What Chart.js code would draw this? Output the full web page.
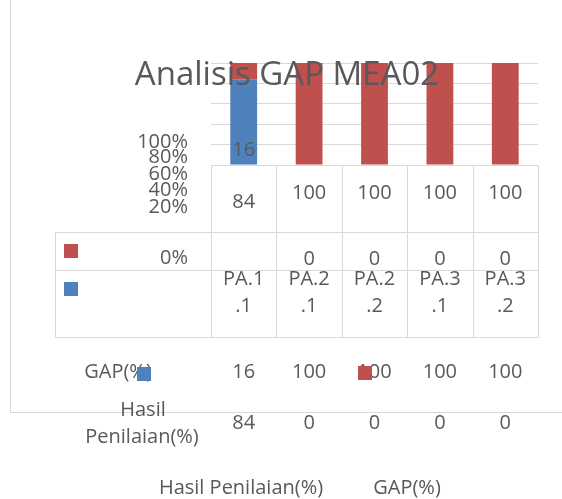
<!DOCTYPE html>
<html>
<head>
<meta charset="utf-8">
<script src="https://cdn.jsdelivr.net/npm/chart.js@4.4.0/dist/chart.umd.min.js"></script>
<style>
  html, body { margin: 0; padding: 0; background: #fff; }
  #wrap { width: 562px; height: 499px; position: relative; }
</style>
</head>
<body>
<div id="wrap"><canvas id="gapChart" width="562" height="499"></canvas></div>
<script>
// data grafik
const categories = ['PA.1.1', 'PA.2.1', 'PA.2.2', 'PA.3.1', 'PA.3.2'];
const hasilPenilaian = [84, 0, 0, 0, 0];
const gap = [16, 100, 100, 100, 100];
const yTickLabels = ['0%', '20%', '40%', '60%', '80%', '100%'];
const seriesNames = ['Hasil Penilaian(%)', 'GAP(%)'];
const chartTitle = 'Analisis GAP MEA02';

const BLUE = '#4F81BD';
const RED = '#C0504D';
const TEXT = '#595959';
const LINE = '#D9D9D9';
const FONT = '"Open Sans", sans-serif';

function teks(ctx, str, x, y, size, align) {
  ctx.font = size + 'px ' + FONT;
  ctx.fillStyle = TEXT;
  ctx.textAlign = align || 'center';
  ctx.textBaseline = 'middle';
  ctx.fillText(str, x, y);
}

function garis(ctx, x1, y1, x2, y2) {
  ctx.beginPath();
  ctx.moveTo(x1, y1);
  ctx.lineTo(x2, y2);
  ctx.stroke();
}

function kotak(ctx, color, x, y) {
  ctx.fillStyle = color;
  ctx.fillRect(x, y, 14, 14);
}

// gambar tabel data, label dan judul seperti di Excel
const tabelPlugin = {
  id: 'tabelExcel',
  afterDatasetsDraw(chart) {
    const ctx = chart.ctx;
    const xs = chart.scales.x;
    const area = chart.chartArea;
    const step = xs.getPixelForValue(1) - xs.getPixelForValue(0);
    const cx = categories.map((c, i) => xs.getPixelForValue(i));

    ctx.save();
    ctx.strokeStyle = LINE;
    ctx.lineWidth = 1;

    // bingkai luar
    garis(ctx, 10.5, 0, 10.5, 412.5);
    garis(ctx, 10, 412.5, 562, 412.5);

    // garis tabel
    const rowTop = area.bottom + 0.5;
    const row1 = 232.5, row2 = 270.5, rowBot = 337.5;
    garis(ctx, area.left, rowTop, area.right, rowTop);
    [row1, row2, rowBot].forEach(y => garis(ctx, 55, y, area.right, y));
    garis(ctx, 55.5, row1, 55.5, rowBot);
    for (let i = 0; i <= categories.length; i++) {
      const x = Math.round(cx[0] - step / 2 + i * step) + 0.5;
      garis(ctx, x, rowTop, x, rowBot);
    }

    // label sumbu y
    const tickY = [258, 207, 190, 174, 157, 142];
    yTickLabels.forEach((t, i) => teks(ctx, t, 188, tickY[i], 20, 'right'));

    // label data
    gap.forEach((v, i) => teks(ctx, String(v), cx[i], i === 0 ? 150 : 193, 20));
    hasilPenilaian.forEach((v, i) => teks(ctx, String(v), cx[i], v > 0 ? 202 : 259, 20));

    // kategori
    categories.forEach((c, i) => {
      teks(ctx, c.slice(0, 4), cx[i], 279, 20);
      teks(ctx, c.slice(4), cx[i], 306, 20);
    });
    kotak(ctx, RED, 64, 244);
    kotak(ctx, BLUE, 64, 282);

    // baris bawah
    teks(ctx, seriesNames[1], 118, 372, 20);
    gap.forEach((v, i) => teks(ctx, String(v), cx[i], 372, 20));
    kotak(ctx, BLUE, 137, 367);
    kotak(ctx, RED, 358, 366);
    teks(ctx, 'Hasil', 143, 410, 20);
    teks(ctx, 'Penilaian(%)', 142, 437, 20);
    hasilPenilaian.forEach((v, i) => teks(ctx, String(v), cx[i], 423, 20));

    // legenda
    teks(ctx, seriesNames[0], 241, 488, 20);
    teks(ctx, seriesNames[1], 407, 488, 20);

    // judul
    teks(ctx, chartTitle, 287, 76, 33);
    ctx.restore();
  }
};

const ctx = document.getElementById('gapChart').getContext('2d');
new Chart(ctx, {
  type: 'bar',
  data: {
    labels: categories,
    datasets: [
      { label: seriesNames[0], data: hasilPenilaian, backgroundColor: BLUE },
      { label: seriesNames[1], data: gap, backgroundColor: RED }
    ]
  },
  options: {
    responsive: false,
    animation: false,
    devicePixelRatio: 1,
    layout: { padding: { left: 211, right: 24, top: 63, bottom: 334 } },
    datasets: { bar: { barPercentage: 0.41, categoryPercentage: 1 } },
    scales: {
      x: { stacked: true, display: false },
      y: {
        stacked: true,
        min: 0,
        max: 100,
        ticks: { display: false, stepSize: 20 },
        border: { display: false },
        grid: { color: LINE, drawTicks: false, lineWidth: 1 }
      }
    },
    plugins: {
      legend: { display: false },
      title: { display: false },
      tooltip: { enabled: false }
    }
  },
  plugins: [tabelPlugin]
});
</script>
</body>
</html>
